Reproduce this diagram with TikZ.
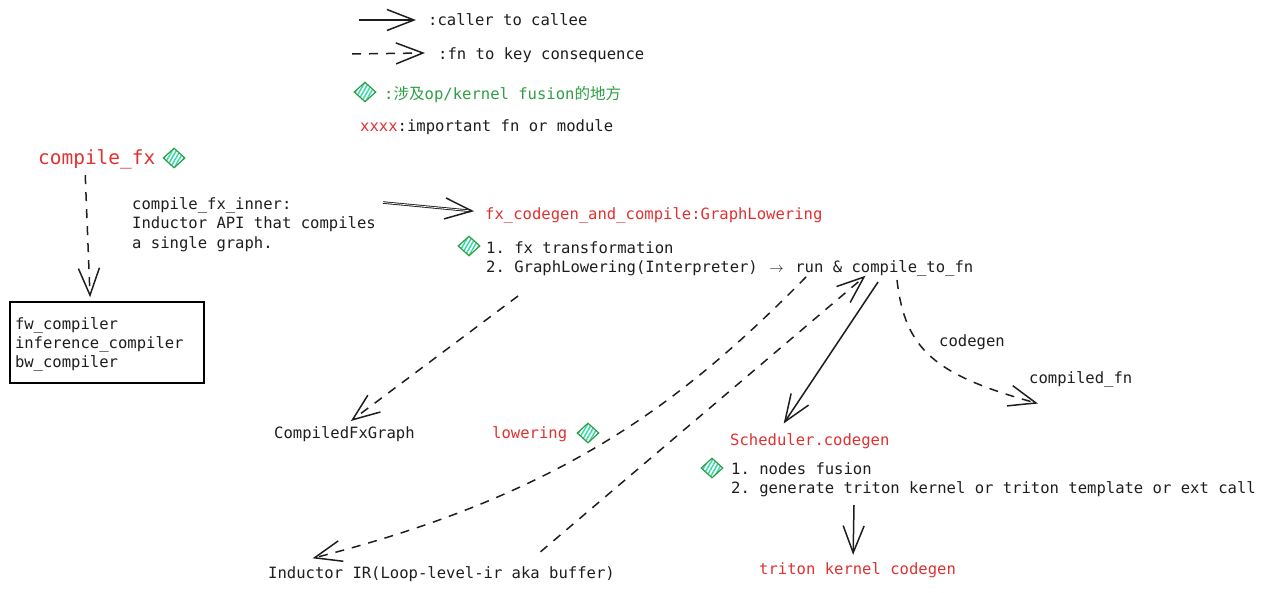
\documentclass[tikz,border=0pt]{standalone}
\usepackage{fontspec}
\usepackage{xcolor}
\usetikzlibrary{arrows.meta, positioning, shapes.geometric, patterns.meta}
\newfontfamily\codefont{DejaVu Sans Mono}
\newfontfamily\cjk{Noto Sans CJK SC}
\definecolor{inkblack}{HTML}{1E1E1E}
\definecolor{fnred}{HTML}{E03131}
\definecolor{fusiongreen}{HTML}{2F9E44}
\definecolor{fusionhatch}{HTML}{38D9A9}
\newcommand{\ligarrow}{\makebox[18.74pt]{$\rightarrow$}}
\frenchspacing

\begin{document}
\begin{tikzpicture}[
    x=1pt, y=-1pt,
    txt/.style={
        anchor=west, inner sep=0pt, text=inkblack,
        font=\codefont\fontsize{15.56}{19.5}\selectfont,
        text height=14pt, text depth=4pt
    },
    multi/.style={
        anchor=west, inner sep=0pt, text=inkblack, align=left,
        font=\codefont\fontsize{15.56}{19.3}\selectfont
    },
    red/.style={txt, text=fnred},
    big/.style={
        anchor=west, inner sep=0pt, text=fnred,
        font=\codefont\fontsize{19.45}{24}\selectfont,
        text height=17pt, text depth=5pt
    },
    box/.style={
        draw=black, rectangle, line width=1.5pt,
        minimum width=194pt, minimum height=81pt,
        text width=184pt, align=left, inner sep=0pt, text=inkblack,
        font=\codefont\fontsize{15.56}{19}\selectfont
    },
    fusion/.style={
        diamond, draw=fusiongreen, line width=1.2pt,
        minimum width=22pt, minimum height=20pt, inner sep=0pt,
        pattern={Lines[angle=60, distance=3.4pt, line width=1.5pt]},
        pattern color=fusionhatch
    },
    arrow/.style={
        -{Straight Barb[length=27pt, width=21pt, line width=1.5pt]},
        line width=1.5pt, draw=inkblack, shorten >=-2pt
    },
    dasharrow/.style={arrow, dash pattern=on 9pt off 8pt}
]
\useasboundingbox (0,0) rectangle (1266,592);

\node[txt] (callertxt) at (428,20) {:caller to callee};
\node[txt] (keytxt) at (438,54) {:fn to key consequence};
\node[fusion] (legendmark) at (365,92) {};
\node[txt, text=fusiongreen] (fusiontxt) at (384,94)
    {:{\cjk 涉及}op/kernel fusion{\cjk 的地方}};
\node[txt] (importanttxt) at (360,126) {\textcolor{fnred}{xxxx}:important fn or module};

\node[big] (compilefx) at (38,158) {compile\_fx};
\node[fusion, right=7pt of compilefx] (compilemark) {};
\node[box] (compilers) at (107,342.5) {\rule{0pt}{15pt}fw\_compiler\\inference\_compiler\\bw\_compiler};
\node[multi] (innertxt) at (132,224.5) {compile\_fx\_inner:\\Inductor API that compiles\\a single graph.};

\node[red] (fxcodegen) at (485,214) {fx\_codegen\_and\_compile:GraphLowering};
\node[fusion] (graphmark) at (469,246) {};
\node[multi] (graphsteps) at (486,259)
    {1. fx transformation\\2. GraphLowering(Interpreter) \ligarrow{} run \& compile\_to\_fn};

\node[txt] (compiledfx) at (274,433) {CompiledFxGraph};
\node[red] (lowering) at (492,433) {lowering};
\node[fusion] (loweringmark) at (588,433) {};
\node[txt] (inductor) at (268,573) {Inductor IR(Loop-level-ir aka buffer)};

\node[red] (scheduler) at (730,440) {Scheduler.codegen};
\node[fusion] (schedmark) at (712,468) {};
\node[multi] (schedsteps) at (731,480)
    {1. nodes fusion\\2. generate triton kernel or triton template or ext call};
\node[red] (kernelcg) at (759,569) {triton kernel codegen};

\node[txt] (codegentxt) at (939,341) {codegen};
\node[txt] (compiledfn) at (1029,378) {compiled\_fn};

\draw[arrow] ([shift={(-69,0)}]callertxt.west) -- ([shift={(-14,0)}]callertxt.west);
\draw[dasharrow] ([shift={(-86,0)}]keytxt.west) -- ([shift={(-15,-1)}]keytxt.west);

\draw[dasharrow] ([shift={(-11.5,6)}]compilefx.south) -- ([shift={(-17,-6)}]compilers.north);
\draw[arrow, line width=0.9pt, double=white, double distance=0.7pt] ([shift={(7,-22)}]innertxt.east) -- ([shift={(-13,-3)}]fxcodegen.west);
\draw[dasharrow] ([shift={(32,37)}]graphsteps.west) -- ([shift={(8,-4)}]compiledfx.north);
\draw[dasharrow] ([shift={(320,18)}]graphsteps.west)
    .. controls (680,405) and (560,495) .. ([shift={(-127,-6)}]inductor.north);
\draw[dasharrow] ([shift={(99,-12)}]inductor.north) -- ([shift={(378,18)}]graphsteps.west);
\draw[arrow] ([shift={(392,23)}]graphsteps.west) -- ([shift={(-25,-9)}]scheduler.north);
\draw[dasharrow] ([shift={(411,21)}]graphsteps.west)
    .. controls (905,350) and (935,375) .. ([shift={(7,25)}]compiledfn.west);
\draw[arrow] ([shift={(123,25)}]schedsteps.west) -- ([shift={(-4.4,-7)}]kernelcg.north);

\end{tikzpicture}
\end{document}
